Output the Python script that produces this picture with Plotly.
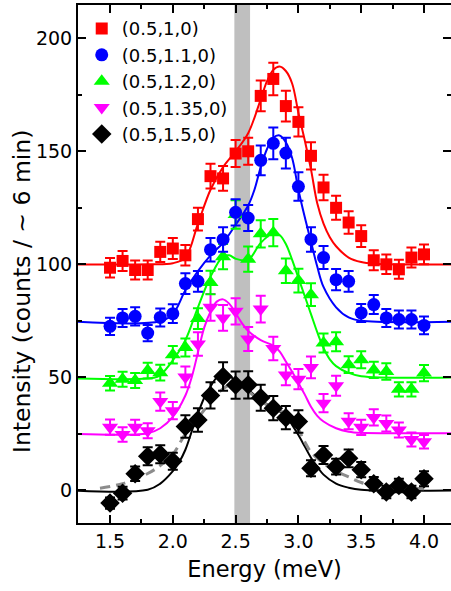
import plotly.graph_objects as go

# ---------------- data ----------------
energy = [1.5, 1.6, 1.7, 1.8, 1.9, 2.0, 2.1, 2.2, 2.3, 2.4, 2.5, 2.6, 2.7,
          2.8, 2.9, 3.0, 3.1, 3.2, 3.3, 3.4, 3.5, 3.6, 3.7, 3.8, 3.9, 4.0]

labels = ["(0.5,1,0)", "(0.5,1.1,0)", "(0.5,1.2,0)", "(0.5,1.35,0)", "(0.5,1.5,0)"]
x_title = "Energy (meV)"
y_title = "Intensity (counts / ~ 6 min)"

red_I = [98.5, 101.5, 97.5, 97.5, 105.5, 107, 104, 120, 139, 138, 149, 150, 174.5,
         182, 170, 163, 148, 134, 125, 118.5, 112.5, 101.8, 100, 97.8, 103, 104.4]
red_err = [4.3, 4.4, 4.2, 4.2, 4.5, 4.6, 4.5, 5.0, 5.5, 5.5, 6.0, 6.0, 6.8,
           7.2, 6.8, 6.5, 6.0, 5.6, 5.3, 5.0, 4.8, 4.4, 4.3, 4.2, 4.4, 4.4]

blue_I = [72.6, 76.3, 77, 69.6, 76.5, 78.2, 91.5, 92.5, 106.5, 111, 123, 120.5, 146,
          153.5, 149.2, 134.4, 111, 103, 93.2, 92.5, 78.5, 82.2, 76.3, 75.6, 75.6, 73]
blue_err = [3.8, 4.0, 4.0, 3.6, 4.0, 4.1, 4.6, 4.6, 5.2, 5.4, 5.8, 5.7, 6.6,
            7.0, 6.8, 6.3, 5.4, 5.1, 4.7, 4.6, 4.0, 4.2, 4.0, 4.0, 4.0, 3.9]

green_I = [47.4, 49.2, 48.6, 53, 52.1, 60, 63.2, 76, 92, 103.4, 122, 102.3, 113.5,
           114, 97.2, 92.8, 86.6, 65.2, 65.8, 55.6, 57.8, 53.3, 52.6, 44.7, 44.7, 51.9]
green_err = [3.2, 3.3, 3.3, 3.5, 3.5, 3.9, 4.0, 4.6, 5.2, 5.6, 6.3, 5.6, 6.0,
             6.0, 5.4, 5.2, 5.0, 4.2, 4.2, 3.7, 3.8, 3.6, 3.6, 3.2, 3.2, 3.6]

magenta_I = [28, 24.7, 27.9, 26.4, 39.3, 35.3, 50.2, 64.8, 81, 76.3, 79.2, 67, 80.2,
             62.8, 51.1, 49.2, 54.4, 38.6, 46.3, 30.6, 27.9, 32.3, 29.6, 26.7, 22.5, 21.5]
magenta_err = [3.4, 3.2, 3.4, 3.3, 4.0, 3.8, 4.6, 5.2, 5.9, 5.7, 5.8, 5.3, 5.9,
               5.2, 4.6, 4.5, 4.8, 4.0, 4.4, 3.5, 3.4, 3.6, 3.5, 3.3, 3.1, 3.0]

black_I = [-5.6, -1.2, 7.4, 15.1, 16, 12.9, 28.3, 31.2, 42, 50.4, 46.6, 46.7, 41,
           36.4, 32.2, 30.5, 9.8, 15.7, 10.5, 14.2, 9.2, 3, -0.7, 2.2, -0.7, 5.2]
black_err = [2.5, 2.8, 3.2, 4.0, 4.0, 3.8, 5.0, 5.2, 5.8, 6.3, 6.0, 6.0, 5.7,
             5.4, 5.1, 5.0, 3.5, 4.0, 3.5, 3.9, 3.4, 3.0, 2.8, 3.0, 2.8, 3.3]

# fit curves
red_fit_E = [1.2, 1.8, 2.0, 2.1, 2.2, 2.3, 2.4, 2.5, 2.6, 2.7, 2.75, 2.8, 2.85, 2.9,
             2.95, 3.0, 3.05, 3.1, 3.15, 3.2, 3.25, 3.3, 3.4, 3.5, 3.6, 4.3]
red_fit_I = [100, 100, 100.5, 103, 118, 133, 143, 150, 158, 173, 181, 186, 187.5, 185.5,
             180, 167, 155, 142, 127, 118, 112, 108, 103, 101, 100.3, 100]

blue_fit_E = [1.2, 1.9, 2.0, 2.1, 2.2, 2.3, 2.4, 2.5, 2.6, 2.65, 2.7, 2.75, 2.8, 2.85,
              2.9, 2.95, 3.0, 3.05, 3.1, 3.15, 3.2, 3.3, 3.4, 3.5, 4.3]
blue_fit_I = [74.7, 74.8, 78, 88.5, 97, 104, 109.5, 117.5, 126, 133, 143, 151, 156, 157,
              154, 147, 133, 121, 110, 99, 90, 81, 76.5, 75, 74.7]

green_fit_E = [1.2, 1.85, 1.9, 2.0, 2.1, 2.2, 2.3, 2.4, 2.45, 2.5, 2.6, 2.7, 2.8, 2.85,
               2.9, 2.95, 3.0, 3.05, 3.1, 3.15, 3.2, 3.25, 3.3, 3.4, 3.5, 4.3]
green_fit_I = [49.6, 49.8, 51, 57.5, 66.5, 81, 94.5, 103.5, 104, 102.5, 102, 109.5, 113.8, 113,
               109, 102, 94, 86, 78, 70, 63, 58, 55, 52, 50.5, 50]

magenta_fit_E = [1.2, 1.8, 1.9, 2.0, 2.1, 2.15, 2.2, 2.25, 2.3, 2.35, 2.4, 2.45, 2.5, 2.55,
                 2.6, 2.7, 2.8, 2.85, 2.9, 2.95, 3.0, 3.05, 3.1, 3.15, 3.2, 3.3, 3.4, 3.5, 4.3]
magenta_fit_I = [25, 25.3, 27.5, 32.5, 42, 50, 61, 72, 79, 83.5, 84.5, 82.5, 78.5, 74,
                 70.5, 66.5, 64, 61.5, 57, 52.5, 47.5, 42.5, 37, 33, 30.5, 27.5, 26, 25.5, 25.3]

black_fit_E = [1.2, 1.8, 1.9, 2.0, 2.05, 2.1, 2.15, 2.2, 2.25, 2.3, 2.35, 2.4, 2.45, 2.5,
               2.6, 2.7, 2.8, 2.9, 2.95, 3.0, 3.05, 3.1, 3.15, 3.2, 3.3, 3.4, 3.5, 4.3]
black_fit_I = [0, 0.3, 3, 8.5, 12.5, 18, 26, 34, 41, 46, 50, 52, 51, 48,
               44.5, 40, 36.5, 33, 29, 24.5, 19.5, 14.5, 10.5, 7, 3, 1.2, 0.3, 0]

black_dash_E = [1.42, 1.6, 1.8, 1.9, 2.0, 2.1, 2.2, 2.3, 2.4, 2.5, 2.55, 2.6, 2.7, 2.8,
                2.9, 2.95, 3.0, 3.05, 3.1, 3.2, 3.3, 3.4, 3.5, 3.6, 3.8, 4.0]
black_dash_I = [1.0, 3, 7.5, 11, 16, 25, 32, 39, 45, 47.5, 46.5, 44, 39.5, 36.5,
                34, 31, 27, 21.5, 17, 12, 8.5, 6, 3.5, 2.2, 1.2, 0.8]

band = [2.49, 2.615]

# ---------------- styles ----------------
FONT = "DejaVu Sans, Arial, sans-serif"
series = [
    # label, I, err, fitE, fitI, color, symbol, size
    (labels[0], red_I, red_err, red_fit_E, red_fit_I, "#FF0000", "square", 12),
    (labels[1], blue_I, blue_err, blue_fit_E, blue_fit_I, "#0000FF", "circle", 13),
    (labels[2], green_I, green_err, green_fit_E, green_fit_I, "#00FF00", "triangle-up", 14),
    (labels[3], magenta_I, magenta_err, magenta_fit_E, magenta_fit_I, "#FF00FF", "triangle-down", 14),
    (labels[4], black_I, black_err, black_fit_E, black_fit_I, "#000000", "diamond", 15),
]

fig = go.Figure()

# fit lines
for lab, I, err, fE, fI, col, sym, sz in series:
    fig.add_trace(go.Scatter(x=fE, y=fI, mode="lines", line=dict(color=col, width=2, shape="spline"),
                             showlegend=False, hoverinfo="skip"))
fig.add_trace(go.Scatter(x=black_dash_E, y=black_dash_I, mode="lines",
                         line=dict(color="#8C8C8C", width=3, dash="10px,6px", shape="spline"),
                         showlegend=False, hoverinfo="skip"))

# data points (black drawn first, red last)
for rank, (lab, I, err, fE, fI, col, sym, sz) in reversed(list(enumerate(series))):
    fig.add_trace(go.Scatter(
        x=energy, y=I, mode="markers", name=lab, legendrank=rank + 1,
        marker=dict(color=col, symbol=sym, size=sz, line=dict(width=0)),
        error_y=dict(type="data", array=err, visible=True, color=col, thickness=2, width=5),
    ))

fig.add_shape(type="rect", xref="x", yref="paper", x0=band[0], x1=band[1], y0=0, y1=1,
              fillcolor="#BFBFBF", line=dict(width=0), layer="below")

axis_common = dict(
    showline=True, linecolor="black", linewidth=2, mirror="ticks",
    ticks="inside", ticklen=8, tickwidth=2, tickcolor="black",
    showgrid=False, zeroline=False,
    tickfont=dict(family=FONT, size=19, color="black"),
)

fig.update_xaxes(
    range=[1.245, 4.215], tick0=1.5, dtick=0.5, tickformat=".1f",
    minor=dict(dtick=0.25, tick0=1.5, ticks="inside", ticklen=4, tickwidth=2, tickcolor="black"),
    title=dict(text=x_title, font=dict(family=FONT, size=22.5, color="black"), standoff=10),
    **axis_common,
)
fig.update_yaxes(
    range=[-14.4, 214.7], tick0=0, dtick=50,
    minor=dict(dtick=25, tick0=0, ticks="inside", ticklen=4, tickwidth=2, tickcolor="black"),
    **axis_common,
)

fig.add_annotation(text=y_title, xref="paper", yref="paper", x=-0.150, y=0.446,
                   xanchor="center", yanchor="middle", textangle=-90, showarrow=False,
                   font=dict(family=FONT, size=23.5, color="black"))

fig.update_layout(
    width=451, height=591,
    margin=dict(l=78, r=0, t=5, b=68, autoexpand=False),
    plot_bgcolor="white", paper_bgcolor="white",
    legend=dict(x=0.01, y=0.99, xanchor="left", yanchor="top", bgcolor="rgba(0,0,0,0)",
                font=dict(family=FONT, size=18, color="black"), traceorder="normal",
                itemsizing="trace"),
)

fig.write_html("out.html")
